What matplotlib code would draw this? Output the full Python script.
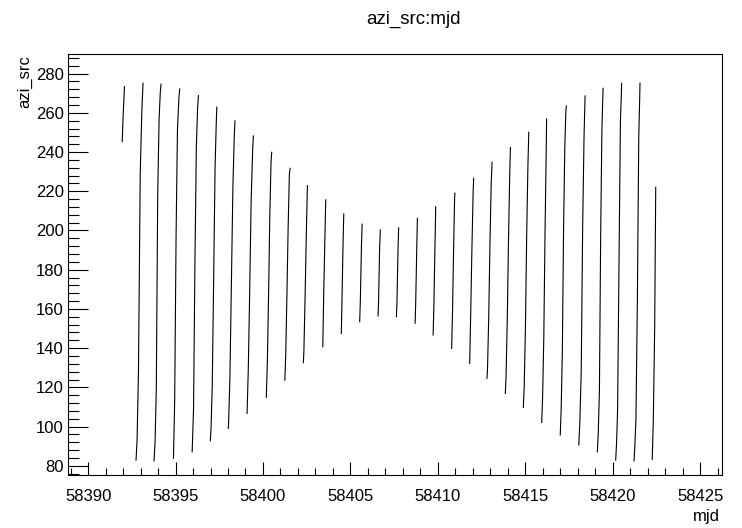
import matplotlib
matplotlib.use("Agg")
import matplotlib.pyplot as plt
from matplotlib.ticker import MultipleLocator

plt.rcParams['font.family'] = ['Liberation Sans', 'DejaVu Sans']

# Per-night tracks: mjd and azimuth at the visible kinks (bottom -> top)
mjd_nights = [
    [58391.95, 58392.01, 58392.08],
    [58392.74, 58392.80, 58392.88, 58392.98, 58393.07, 58393.14],
    [58393.77, 58393.83, 58393.90, 58393.98, 58394.06, 58394.13, 58394.17],
    [58394.88, 58394.95, 58395.03, 58395.11, 58395.19, 58395.24],
    [58395.95, 58396.03, 58396.11, 58396.19, 58396.26, 58396.31],
    [58396.99, 58397.03, 58397.10, 58397.18, 58397.26, 58397.33, 58397.36],
    [58398.02, 58398.04, 58398.11, 58398.19, 58398.28, 58398.36, 58398.40],
    [58399.09, 58399.16, 58399.24, 58399.32, 58399.41, 58399.45],
    [58400.19, 58400.25, 58400.32, 58400.39, 58400.46, 58400.50],
    [58401.25, 58401.30, 58401.37, 58401.44, 58401.51, 58401.55],
    [58402.31, 58402.34, 58402.41, 58402.48, 58402.54],
    [58403.42, 58403.47, 58403.54, 58403.59],
    [58404.48, 58404.52, 58404.58, 58404.62],
    [58405.53, 58405.57, 58405.63, 58405.67],
    [58406.58, 58406.61, 58406.67, 58406.71],
    [58407.63, 58407.66, 58407.72, 58407.76],
    [58408.70, 58408.73, 58408.79, 58408.83],
    [58409.73, 58409.77, 58409.83, 58409.88],
    [58410.79, 58410.84, 58410.90, 58410.96, 58410.98],
    [58411.82, 58411.88, 58411.95, 58412.02, 58412.05],
    [58412.81, 58412.84, 58412.91, 58412.98, 58413.05, 58413.10],
    [58413.86, 58413.90, 58413.97, 58414.04, 58414.11, 58414.15],
    [58414.89, 58414.94, 58415.01, 58415.08, 58415.15, 58415.20],
    [58415.94, 58415.99, 58416.06, 58416.13, 58416.19, 58416.22],
    [58417.00, 58417.05, 58417.12, 58417.19, 58417.26, 58417.32, 58417.35],
    [58418.06, 58418.12, 58418.20, 58418.28, 58418.36, 58418.42],
    [58419.12, 58419.17, 58419.24, 58419.31, 58419.38, 58419.43, 58419.45],
    [58420.17, 58420.22, 58420.28, 58420.36, 58420.44, 58420.49, 58420.51],
    [58421.22, 58421.26, 58421.33, 58421.41, 58421.49, 58421.54, 58421.56],
    [58422.26, 58422.32, 58422.40, 58422.46],
]

azi_nights = [
    [245.3, 260.1, 273.4],
    [82.9, 93.1, 128.0, 228.7, 260.3, 275.1],
    [82.5, 92.2, 119.5, 218.1, 257.2, 270.8, 274.6],
    [83.8, 112.7, 196.8, 251.6, 267.4, 272.2],
    [87.1, 109.3, 185.0, 242.4, 262.3, 268.8],
    [92.8, 99.1, 121.2, 175.6, 232.2, 255.2, 262.9],
    [99.1, 103.7, 125.4, 170.5, 222.3, 248.4, 255.9],
    [106.7, 129.2, 168.8, 213.9, 241.1, 248.2],
    [114.9, 132.6, 167.1, 207.6, 234.6, 239.9],
    [123.7, 136.1, 167.1, 201.9, 228.8, 231.7],
    [132.6, 138.5, 166.7, 198.9, 222.9],
    [140.7, 166.2, 196.0, 215.6],
    [147.5, 165.4, 193.5, 208.4],
    [153.5, 164.9, 191.7, 203.2],
    [156.4, 163.7, 190.6, 200.3],
    [156.0, 162.3, 189.5, 201.4],
    [152.7, 161.5, 188.9, 206.2],
    [146.7, 160.3, 189.5, 212.1],
    [139.9, 159.1, 190.0, 217.2, 219.0],
    [132.2, 157.8, 191.4, 220.2, 226.6],
    [124.6, 129.2, 156.0, 193.1, 223.6, 234.8],
    [116.9, 125.4, 154.0, 194.8, 228.3, 242.3],
    [109.8, 120.7, 150.9, 197.3, 232.6, 250.1],
    [102.1, 114.4, 145.8, 199.4, 236.0, 256.9],
    [95.7, 108.1, 138.2, 200.8, 242.4, 260.6, 263.5],
    [90.6, 102.1, 128.3, 200.6, 247.9, 268.6],
    [87.1, 95.7, 117.8, 196.0, 250.4, 266.9, 272.5],
    [82.9, 91.4, 108.8, 183.3, 255.5, 268.3, 275.1],
    [82.5, 88.9, 104.2, 164.5, 247.9, 266.2, 275.1],
    [83.3, 102.4, 150.1, 222.0],
]

title = "azi_src:mjd"
xlabel = "mjd"
ylabel = "azi_src"

W, H = 742, 528
fig = plt.figure(figsize=(W / 100, H / 100), dpi=100)
ax = fig.add_axes([68 / W, 1 - 475 / H, (722 - 68) / W, (475 - 54) / H])

for xs, ys in zip(mjd_nights, azi_nights):
    ax.plot(xs, ys, color='black', lw=0.8, antialiased=True)

ax.set_xlim(58388.85, 58426.25)
ax.set_ylim(75.3, 290.0)

ax.xaxis.set_major_locator(MultipleLocator(5))
ax.xaxis.set_minor_locator(MultipleLocator(1))
ax.yaxis.set_major_locator(MultipleLocator(20))
ax.yaxis.set_minor_locator(MultipleLocator(4))

ax.tick_params(axis='both', which='both', direction='in', top=False, right=False,
               labelsize=12, width=0.8, color='black')
ax.tick_params(axis='y', which='major', length=14.4, pad=3)
ax.tick_params(axis='y', which='minor', length=7.9)
ax.tick_params(axis='x', which='major', length=9.4, pad=10)
ax.tick_params(axis='x', which='minor', length=4.7)

for sp in ax.spines.values():
    sp.set_linewidth(0.8)
    sp.set_color('black')

fig.text(414 / W, 1 - 19 / H, title, ha='center', va='center', fontsize=13.5)
fig.text(720 / W, 1 - 517 / H, xlabel, ha='right', va='center', fontsize=12)
fig.text(25 / W, 1 - 55 / H, ylabel, ha='center', va='top', rotation=90, fontsize=12)

fig.savefig("out.png", dpi=100)
